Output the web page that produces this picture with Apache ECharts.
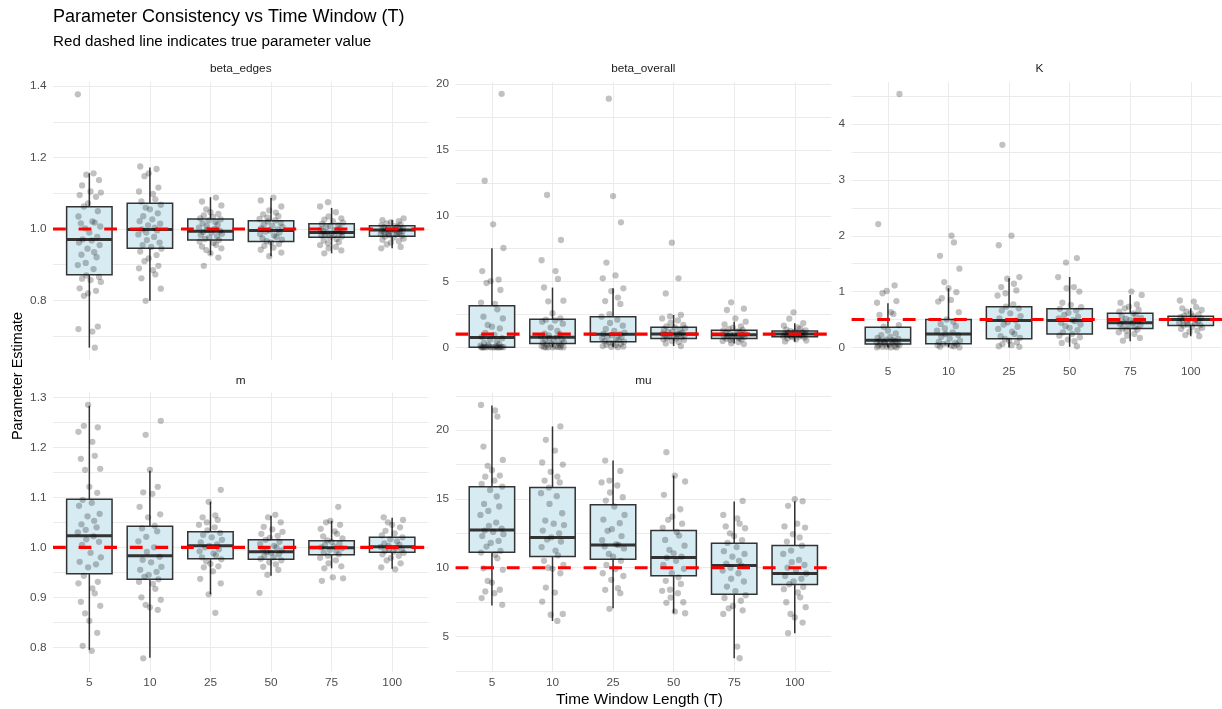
<!DOCTYPE html>
<html>
<head>
<meta charset="utf-8">
<title>Parameter Consistency vs Time Window (T)</title>
<script src="https://cdn.jsdelivr.net/npm/echarts/dist/echarts.min.js"></script>
<style>
html, body { margin: 0; padding: 0; background: #fff; }
#chart { width: 1222px; height: 709px; }
</style>
</head>
<body>
<div id="chart"></div>
<script>
// categories
var windowLabels = ['5', '10', '25', '50', '75', '100'];
var panelNames = ['beta_edges', 'beta_overall', 'K', 'm', 'mu'];
var trueValues = [1, 1, 0.5, 1, 10];

// box stats per window: [lower whisker, Q1, median, Q3, upper whisker]
var boxBetaEdges = [
    [0.668, 0.872, 0.971, 1.062, 1.156],
    [0.799, 0.946, 0.999, 1.072, 1.172],
    [0.927, 0.969, 0.994, 1.028, 1.089],
    [0.924, 0.965, 0.996, 1.023, 1.087],
    [0.932, 0.977, 0.990, 1.015, 1.059],
    [0.946, 0.980, 0.997, 1.009, 1.025]
];
var boxBetaOverall = [
    [0, 0, 0.74, 3.17, 7.53],
    [0, 0.30, 0.76, 2.13, 4.54],
    [0.03, 0.43, 0.99, 2.33, 4.49],
    [0.10, 0.68, 1.01, 1.52, 2.46],
    [0.30, 0.68, 0.96, 1.29, 1.95],
    [0.43, 0.81, 1.01, 1.24, 1.83]
];
var boxK = [
    [0, 0.06, 0.13, 0.36, 0.79],
    [0, 0.066, 0.24, 0.50, 1.06],
    [0, 0.155, 0.48, 0.73, 1.24],
    [0.01, 0.24, 0.48, 0.69, 1.26],
    [0.11, 0.34, 0.44, 0.61, 0.94],
    [0.20, 0.39, 0.50, 0.56, 0.70]
];
var boxM = [
    [0.795, 0.947, 1.023, 1.096, 1.283],
    [0.779, 0.936, 0.983, 1.042, 1.153],
    [0.906, 0.977, 1.003, 1.031, 1.091],
    [0.943, 0.976, 0.991, 1.015, 1.063],
    [0.958, 0.985, 0.999, 1.013, 1.053],
    [0.957, 0.990, 1.001, 1.020, 1.059]
];
var boxMu = [
    [7.25, 11.13, 12.75, 15.88, 21.79],
    [6.13, 10.81, 12.19, 15.83, 20.27],
    [7.05, 10.62, 11.66, 14.57, 17.79],
    [6.69, 9.41, 10.74, 12.70, 16.70],
    [3.42, 8.07, 10.16, 11.78, 14.81],
    [5.24, 8.78, 9.58, 11.61, 14.84]
];

// individual estimates per window
var ptsBetaEdges = [
    [1.377, 1.156, 1.152, 1.137, 1.122, 1.105, 1.102, 1.095, 1.090, 1.072, 1.063, 1.050, 1.035, 1.021, 1.018, 1.016, 1.007, 1.002, 0.990, 0.978, 0.971, 0.968, 0.962, 0.955, 0.945, 0.935, 0.928, 0.921, 0.905, 0.899, 0.888, 0.870, 0.866, 0.861, 0.857, 0.852, 0.834, 0.827, 0.820, 0.813, 0.727, 0.720, 0.713, 0.668],
    [1.175, 1.168, 1.156, 1.148, 1.116, 1.105, 1.098, 1.083, 1.077, 1.068, 1.060, 1.055, 1.044, 1.036, 1.027, 1.022, 1.015, 1.010, 1.004, 0.999, 0.996, 0.990, 0.985, 0.978, 0.969, 0.962, 0.955, 0.950, 0.945, 0.937, 0.927, 0.918, 0.910, 0.897, 0.890, 0.885, 0.873, 0.862, 0.833, 0.799],
    [1.088, 1.077, 1.066, 1.055, 1.047, 1.042, 1.038, 1.034, 1.030, 1.027, 1.024, 1.020, 1.016, 1.012, 1.008, 1.004, 1.000, 0.998, 0.995, 0.992, 0.990, 0.987, 0.983, 0.980, 0.976, 0.972, 0.969, 0.965, 0.961, 0.956, 0.951, 0.946, 0.941, 0.932, 0.920, 0.897],
    [1.088, 1.080, 1.063, 1.052, 1.046, 1.041, 1.036, 1.032, 1.028, 1.024, 1.021, 1.017, 1.013, 1.009, 1.005, 1.002, 0.999, 0.996, 0.993, 0.990, 0.986, 0.982, 0.978, 0.974, 0.970, 0.966, 0.962, 0.958, 0.953, 0.948, 0.942, 0.934, 0.924],
    [1.075, 1.063, 1.047, 1.035, 1.030, 1.026, 1.022, 1.018, 1.014, 1.011, 1.008, 1.005, 1.002, 0.999, 0.997, 0.996, 0.993, 0.992, 0.990, 0.988, 0.987, 0.985, 0.983, 0.982, 0.979, 0.976, 0.972, 0.968, 0.964, 0.960, 0.955, 0.950, 0.946, 0.940, 0.932],
    [1.030, 1.025, 1.022, 1.019, 1.016, 1.013, 1.010, 1.008, 1.006, 1.005, 1.003, 1.001, 1.000, 0.999, 0.998, 0.997, 0.995, 0.994, 0.993, 0.991, 0.990, 0.989, 0.987, 0.986, 0.985, 0.983, 0.981, 0.979, 0.976, 0.973, 0.970, 0.966, 0.962, 0.957, 0.950, 0.946]
];
var ptsBetaOverall = [
    [19.27, 12.67, 9.35, 7.55, 5.80, 5.15, 5.04, 4.89, 4.36, 3.40, 3.30, 2.89, 2.33, 2.20, 1.70, 1.57, 1.44, 1.10, 0.95, 0.80, 0.70, 0.60, 0.45, 0.35, 0.25, 0.18, 0.12, 0.08, 0.05, 0.03, 0.02, 0.01, 0.01, 0, 0, 0, 0, 0, 0, 0, 0, 0],
    [11.58, 8.16, 6.62, 5.80, 5.20, 4.55, 3.55, 3.50, 2.59, 2.20, 2.10, 2.05, 1.95, 1.80, 1.50, 1.25, 1.05, 1.00, 0.90, 0.82, 0.76, 0.70, 0.62, 0.55, 0.48, 0.40, 0.35, 0.30, 0.28, 0.22, 0.15, 0.10, 0.06, 0.03, 0.01, 0, 0, 0, 0, 0],
    [18.90, 11.50, 9.50, 6.44, 5.47, 5.25, 4.49, 4.28, 3.78, 3.52, 3.30, 2.53, 2.33, 2.10, 1.85, 1.65, 1.40, 1.25, 1.12, 1.02, 0.99, 0.92, 0.85, 0.78, 0.70, 0.62, 0.55, 0.48, 0.43, 0.38, 0.32, 0.26, 0.20, 0.15, 0.10, 0.06, 0.03, 0.01],
    [7.96, 5.25, 4.10, 2.46, 2.35, 2.20, 2.05, 1.85, 1.70, 1.60, 1.52, 1.45, 1.38, 1.30, 1.22, 1.15, 1.10, 1.05, 1.01, 0.98, 0.95, 0.90, 0.86, 0.82, 0.78, 0.72, 0.68, 0.62, 0.55, 0.48, 0.40, 0.30, 0.10],
    [3.42, 2.94, 2.84, 2.20, 1.95, 1.75, 1.60, 1.50, 1.40, 1.32, 1.28, 1.22, 1.16, 1.10, 1.05, 1.00, 0.96, 0.93, 0.90, 0.86, 0.82, 0.78, 0.74, 0.70, 0.66, 0.60, 0.55, 0.48, 0.40, 0.32, 0.25],
    [2.66, 2.18, 1.83, 1.65, 1.52, 1.42, 1.34, 1.28, 1.24, 1.20, 1.15, 1.10, 1.06, 1.03, 1.01, 0.99, 0.96, 0.93, 0.90, 0.87, 0.84, 0.81, 0.78, 0.74, 0.68, 0.60, 0.52, 0.45]
];
var ptsK = [
    [4.54, 2.21, 1.11, 1.01, 0.97, 0.83, 0.80, 0.63, 0.60, 0.58, 0.40, 0.37, 0.30, 0.25, 0.22, 0.19, 0.17, 0.15, 0.14, 0.13, 0.12, 0.11, 0.10, 0.09, 0.08, 0.07, 0.06, 0.06, 0.05, 0.04, 0.03, 0.02, 0.01, 0.01, 0, 0, 0],
    [2.00, 1.88, 1.64, 1.41, 1.17, 1.06, 0.99, 0.88, 0.85, 0.82, 0.63, 0.50, 0.46, 0.42, 0.38, 0.34, 0.30, 0.27, 0.24, 0.22, 0.19, 0.16, 0.12, 0.10, 0.08, 0.07, 0.06, 0.05, 0.04, 0.03, 0.02, 0.01, 0],
    [3.63, 2.00, 1.83, 1.26, 1.23, 1.14, 1.08, 1.02, 0.97, 0.93, 0.77, 0.73, 0.70, 0.66, 0.61, 0.56, 0.52, 0.48, 0.45, 0.41, 0.37, 0.33, 0.28, 0.24, 0.20, 0.17, 0.15, 0.12, 0.09, 0.06, 0.04, 0.02, 0.01],
    [1.60, 1.52, 1.26, 1.08, 1.06, 1.00, 0.80, 0.76, 0.72, 0.69, 0.66, 0.62, 0.58, 0.55, 0.52, 0.49, 0.47, 0.44, 0.41, 0.38, 0.35, 0.31, 0.27, 0.24, 0.21, 0.18, 0.14, 0.11, 0.08, 0.02],
    [1.00, 0.94, 0.80, 0.77, 0.73, 0.70, 0.67, 0.64, 0.61, 0.58, 0.56, 0.53, 0.51, 0.49, 0.47, 0.45, 0.44, 0.42, 0.40, 0.38, 0.36, 0.34, 0.32, 0.30, 0.27, 0.24, 0.21, 0.17, 0.12],
    [0.84, 0.82, 0.72, 0.70, 0.67, 0.64, 0.61, 0.59, 0.57, 0.56, 0.54, 0.52, 0.51, 0.50, 0.49, 0.47, 0.46, 0.44, 0.43, 0.41, 0.40, 0.39, 0.37, 0.35, 0.33, 0.30, 0.28, 0.22, 0.20]
];
var ptsM = [
    [1.285, 1.243, 1.240, 1.231, 1.211, 1.183, 1.177, 1.157, 1.155, 1.121, 1.109, 1.095, 1.089, 1.083, 1.067, 1.062, 1.053, 1.046, 1.040, 1.035, 1.030, 1.022, 1.016, 1.011, 1.005, 0.989, 0.980, 0.971, 0.966, 0.960, 0.943, 0.931, 0.928, 0.918, 0.908, 0.891, 0.883, 0.868, 0.853, 0.829, 0.803, 0.793],
    [1.253, 1.225, 1.155, 1.121, 1.110, 1.107, 1.081, 1.066, 1.060, 1.043, 1.038, 1.032, 1.021, 1.012, 1.000, 0.991, 0.981, 0.975, 0.970, 0.961, 0.955, 0.951, 0.945, 0.941, 0.936, 0.931, 0.927, 0.917, 0.900, 0.895, 0.885, 0.880, 0.875, 0.778],
    [1.115, 1.091, 1.064, 1.060, 1.055, 1.050, 1.045, 1.040, 1.034, 1.029, 1.025, 1.020, 1.015, 1.010, 1.006, 1.003, 1.000, 0.996, 0.992, 0.988, 0.984, 0.980, 0.976, 0.972, 0.967, 0.962, 0.960, 0.952, 0.937, 0.928, 0.906, 0.869],
    [1.065, 1.060, 1.050, 1.041, 1.036, 1.031, 1.027, 1.023, 1.019, 1.015, 1.011, 1.007, 1.003, 1.000, 0.997, 0.994, 0.991, 0.989, 0.986, 0.983, 0.980, 0.977, 0.974, 0.970, 0.966, 0.961, 0.955, 0.945, 0.909],
    [1.081, 1.053, 1.050, 1.045, 1.037, 1.032, 1.027, 1.022, 1.018, 1.014, 1.011, 1.008, 1.005, 1.002, 1.000, 0.998, 0.995, 0.992, 0.989, 0.986, 0.983, 0.979, 0.974, 0.968, 0.962, 0.958, 0.940, 0.938, 0.933],
    [1.060, 1.055, 1.050, 1.045, 1.040, 1.033, 1.028, 1.024, 1.020, 1.016, 1.012, 1.008, 1.005, 1.003, 1.001, 0.999, 0.997, 0.995, 0.993, 0.991, 0.989, 0.986, 0.983, 0.979, 0.974, 0.968, 0.960, 0.956]
];
var ptsMu = [
    [21.84, 21.43, 20.99, 18.81, 17.84, 17.41, 17.09, 16.70, 16.62, 16.34, 16.10, 15.90, 15.66, 15.18, 14.64, 14.45, 14.13, 13.84, 13.28, 13.05, 12.85, 12.70, 12.60, 12.44, 12.30, 11.95, 11.80, 11.54, 11.22, 11.10, 10.95, 10.69, 9.96, 9.85, 9.04, 8.92, 8.40, 8.27, 8.15, 7.79, 7.30],
    [20.27, 19.30, 18.52, 17.65, 17.50, 16.97, 16.63, 16.34, 16.20, 15.83, 15.42, 15.20, 14.64, 13.96, 13.43, 13.20, 13.10, 12.70, 12.50, 12.20, 12.05, 11.90, 11.50, 11.25, 10.90, 10.50, 10.21, 10.00, 9.92, 9.60, 8.56, 8.19, 7.54, 6.64, 6.58, 6.13],
    [17.79, 17.04, 16.34, 16.20, 15.98, 15.47, 15.13, 14.88, 14.45, 13.84, 13.50, 13.24, 12.80, 12.68, 12.30, 12.00, 11.70, 11.66, 11.55, 11.40, 11.00, 10.80, 10.50, 10.20, 9.90, 9.60, 9.40, 9.12, 8.51, 8.39, 8.15, 7.01],
    [18.40, 16.70, 16.27, 15.30, 14.25, 13.72, 13.48, 13.20, 12.90, 12.60, 12.34, 12.02, 11.60, 11.30, 11.05, 10.80, 10.74, 10.50, 10.20, 9.92, 9.60, 9.30, 9.05, 8.82, 8.40, 8.32, 8.15, 7.83, 7.49, 7.45, 6.81, 6.69],
    [14.86, 13.84, 13.58, 13.20, 13.00, 12.87, 12.50, 12.30, 12.00, 11.80, 11.50, 11.20, 11.00, 10.80, 10.50, 10.30, 10.16, 10.00, 9.80, 9.60, 9.20, 9.00, 8.63, 8.30, 8.00, 7.80, 7.60, 7.22, 7.05, 6.90, 6.64, 4.27, 3.42],
    [14.98, 14.84, 14.50, 13.20, 13.00, 12.92, 12.44, 12.20, 11.90, 11.60, 11.25, 11.00, 10.57, 10.40, 10.20, 10.00, 9.80, 9.58, 9.40, 9.20, 9.00, 8.80, 8.60, 8.44, 8.20, 7.85, 7.49, 7.13, 6.64, 6.38, 6.01, 5.24]
];

// y axis: gridline values and labelled ticks
var gridBetaEdges = [0.7, 0.8, 0.9, 1.0, 1.1, 1.2, 1.3, 1.4];
var ticksBetaEdges = [0.8, 1.0, 1.2, 1.4];
var gridBetaOverall = [0, 2.5, 5, 7.5, 10, 12.5, 15, 17.5, 20];
var ticksBetaOverall = [0, 5, 10, 15, 20];
var gridK = [0, 0.5, 1, 1.5, 2, 2.5, 3, 3.5, 4, 4.5];
var ticksK = [0, 1, 2, 3, 4];
var gridM = [0.8, 0.85, 0.9, 0.95, 1.0, 1.05, 1.1, 1.15, 1.2, 1.25, 1.3];
var ticksM = [0.8, 0.9, 1.0, 1.1, 1.2, 1.3];
var gridMu = [2.5, 5, 7.5, 10, 12.5, 15, 17.5, 20, 22.5];
var ticksMu = [5, 10, 15, 20];

// y axis limits [min, max]
var limBetaEdges = [0.632, 1.4115];
var limBetaOverall = [-1.0, 20.17];
var limK = [-0.235, 4.755];
var limM = [0.7516, 1.3096];
var limMu = [2.455, 22.74];

var chart = echarts.init(document.getElementById('chart'));
var FONT = '"Liberation Sans", Arial, sans-serif';

var panels = [
    {box: boxBetaEdges, pts: ptsBetaEdges, grid: gridBetaEdges, ticks: ticksBetaEdges, lim: limBetaEdges, dec: 1, showX: false},
    {box: boxBetaOverall, pts: ptsBetaOverall, grid: gridBetaOverall, ticks: ticksBetaOverall, lim: limBetaOverall, dec: 0, showX: false},
    {box: boxK, pts: ptsK, grid: gridK, ticks: ticksK, lim: limK, dec: 0, showX: true},
    {box: boxM, pts: ptsM, grid: gridM, ticks: ticksM, lim: limM, dec: 1, showX: true},
    {box: boxMu, pts: ptsMu, grid: gridMu, ticks: ticksMu, lim: limMu, dec: 0, showX: true}
];

// panel rectangles (px)
var rects = [
    {left: 53, top: 82, width: 375.5, height: 278.5},
    {left: 455.6, top: 82, width: 375.5, height: 278.5},
    {left: 851.6, top: 82, width: 375.5, height: 278.5},
    {left: 53, top: 392.5, width: 375.5, height: 279},
    {left: 455.6, top: 392.5, width: 375.5, height: 279}
];

// horizontal jitter offsets (fraction of a category)
var jitter = [-0.19, 0.07, -0.05, 0.16, -0.12, 0.02, 0.19, -0.16, 0.11, -0.02, -0.09, 0.14, -0.18, 0.05,
    0.09, -0.14, 0.18, -0.07, 0.0, 0.13, -0.11, 0.04, -0.17, 0.17, -0.03, 0.08, -0.13, 0.12, -0.06];

function renderBox(params, api) {
    var x = api.value(0);
    var half = 0.375;
    var stroke = '#333333';
    var c = api.coord([x, api.value(3)]);
    var xc = c[0], yMed = c[1];
    var yLow = api.coord([x, api.value(1)])[1];
    var yQ1 = api.coord([x, api.value(2)])[1];
    var yQ3 = api.coord([x, api.value(4)])[1];
    var yHigh = api.coord([x, api.value(5)])[1];
    var xl = api.coord([x - half, api.value(3)])[0];
    var xr = api.coord([x + half, api.value(3)])[0];
    return {
        type: 'group',
        children: [
            {type: 'line', shape: {x1: xc, y1: yQ3, x2: xc, y2: yHigh}, style: {stroke: stroke, lineWidth: 1.5}},
            {type: 'line', shape: {x1: xc, y1: yQ1, x2: xc, y2: yLow}, style: {stroke: stroke, lineWidth: 1.5}},
            {type: 'rect', shape: {x: xl, y: yQ3, width: xr - xl, height: yQ1 - yQ3},
                style: {fill: '#D6EBF2', stroke: stroke, lineWidth: 1.5}},
            {type: 'line', shape: {x1: xl, y1: yMed, x2: xr, y2: yMed}, style: {stroke: stroke, lineWidth: 3}}
        ]
    };
}

var grids = [], xAxes = [], yAxes = [], series = [];
var catPos = [1, 2, 3, 4, 5, 6];

panels.forEach(function (p, i) {
    grids.push({
        left: rects[i].left, top: rects[i].top, width: rects[i].width, height: rects[i].height,
        containLabel: false, outerBoundsMode: 'none'
    });
    xAxes.push({
        type: 'value', gridIndex: i, min: 0.4, max: 6.6,
        axisLine: {show: false},
        axisTick: {show: false, customValues: catPos},
        axisLabel: {
            show: p.showX, customValues: catPos, margin: 5,
            color: '#4d4d4d', fontSize: 11.8, fontFamily: FONT, lineHeight: 12,
            formatter: function (v) { return windowLabels[Math.round(v) - 1]; }
        },
        splitLine: {show: true, lineStyle: {color: '#ebebeb', width: 1}}
    });
    yAxes.push({
        type: 'value', gridIndex: i, min: p.lim[0], max: p.lim[1],
        axisLine: {show: false},
        axisTick: {show: false, customValues: p.grid},
        axisLabel: {
            customValues: p.ticks, margin: 6.5,
            color: '#4d4d4d', fontSize: 11.8, fontFamily: FONT,
            formatter: function (v) { return v.toFixed(p.dec); }
        },
        splitLine: {show: true, lineStyle: {color: '#ebebeb', width: 1}}
    });
    series.push({
        type: 'custom', xAxisIndex: i, yAxisIndex: i, renderItem: renderBox, silent: true, z: 2,
        encode: {x: 0, y: [1, 2, 3, 4, 5]},
        data: p.box.map(function (b, k) { return [catPos[k]].concat(b); })
    });
    var pts = [];
    p.pts.forEach(function (vals, k) {
        vals.forEach(function (v, j) {
            pts.push([catPos[k] + jitter[(j + k * 7 + i * 3) % jitter.length], v]);
        });
    });
    series.push({
        type: 'scatter', xAxisIndex: i, yAxisIndex: i, silent: true, z: 3,
        symbolSize: 6.3, itemStyle: {color: 'rgba(0,0,0,0.3)'},
        data: pts
    });
    series.push({
        type: 'line', xAxisIndex: i, yAxisIndex: i, silent: true, z: 4,
        symbol: 'none',
        lineStyle: {color: '#ff0000', width: 3.2, type: [12.8, 12.8]},
        data: [[0.4, trueValues[i]], [6.6, trueValues[i]]]
    });
});

var stripY = [69, 69, 69, 380.5, 380.5];
var graphics = [
    {type: 'text', x: 53, y: 17.5, style: {text: 'Parameter Consistency vs Time Window (T)',
        fontSize: 18, fontFamily: FONT, fill: '#000', align: 'left', verticalAlign: 'middle'}},
    {type: 'text', x: 53, y: 41.5, style: {text: 'Red dashed line indicates true parameter value',
        fontSize: 15.2, fontFamily: FONT, fill: '#000', align: 'left', verticalAlign: 'middle'}},
    {type: 'text', x: 639.5, y: 700, style: {text: 'Time Window Length (T)',
        fontSize: 15.3, fontFamily: FONT, fill: '#000', align: 'center', verticalAlign: 'middle'}},
    {type: 'text', x: 17.5, y: 376, rotation: Math.PI / 2, style: {text: 'Parameter Estimate',
        fontSize: 14.5, fontFamily: FONT, fill: '#000', align: 'center', verticalAlign: 'middle'}}
];
panelNames.forEach(function (n, i) {
    graphics.push({type: 'text', x: rects[i].left + rects[i].width / 2, y: stripY[i],
        style: {text: n, fontSize: 11.8, fontFamily: FONT, fill: '#1a1a1a', align: 'center', verticalAlign: 'middle'}});
});

chart.setOption({
    animation: false,
    backgroundColor: '#ffffff',
    grid: grids,
    xAxis: xAxes,
    yAxis: yAxes,
    series: series,
    graphic: graphics
});
</script>
</body>
</html>
